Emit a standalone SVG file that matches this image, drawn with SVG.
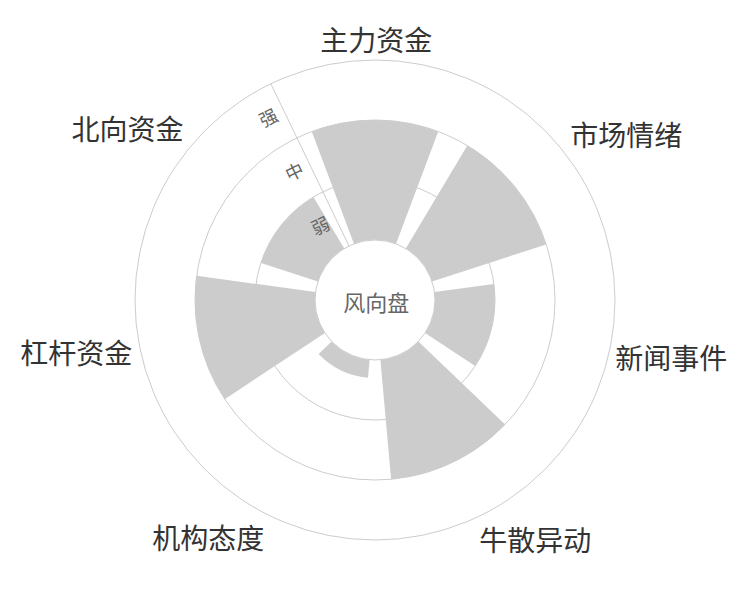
<svg xmlns="http://www.w3.org/2000/svg" width="750" height="600" viewBox="0 0 750 600">
<style>
  .grid { fill: none; stroke: #cccccc; stroke-width: 1; }
  .bar { fill: #cccccc; stroke: none; }
  .cat { font-family: "Noto Sans CJK SC", "Noto Sans", sans-serif; font-size: 28px; fill: #333333; text-anchor: middle; }
  .rlab { font-family: "Noto Sans CJK SC", "Noto Sans", sans-serif; font-size: 18px; fill: #666666; text-anchor: end; }
  .center { font-family: "Noto Sans CJK SC", "Noto Sans", sans-serif; font-size: 22px; fill: #666666; text-anchor: middle; }
</style>
<rect x="0" y="0" width="750" height="600" fill="#ffffff"/>
<g id="grid">
  <circle class="grid" cx="375" cy="300" r="60"/>
  <circle class="grid" cx="375" cy="300" r="120"/>
  <circle class="grid" cx="375" cy="300" r="180"/>
  <circle class="grid" cx="375" cy="300" r="240"/>
</g>
<g id="node-zhuli">
  <path class="bar" d="M438.25,131.47 A180,180 0 0 0 311.75,131.47 L353.92,243.82 A60,60 0 0 1 396.08,243.82 Z"/>
  <text class="cat" x="376.3" y="50.8">主力资金</text>
</g>
<g id="node-shichang">
  <path class="bar" d="M546.19,244.38 A180,180 0 0 0 467.32,145.48 L405.77,248.49 A60,60 0 0 1 432.06,281.46 Z"/>
  <text class="cat" x="626.3" y="145.5">市场情绪</text>
</g>
<g id="node-xinwen">
  <path class="bar" d="M475.15,366.11 A120,120 0 0 0 493.91,283.89 L434.46,291.95 A60,60 0 0 1 425.08,333.05 Z"/>
  <text class="cat" x="671.3" y="368.8">新闻事件</text>
</g>
<g id="node-niusan">
  <path class="bar" d="M391.14,479.27 A180,180 0 0 0 505.10,424.39 L418.37,341.46 A60,60 0 0 1 380.38,359.76 Z"/>
  <text class="cat" x="535.3" y="550.8">牛散异动</text>
</g>
<g id="node-jigou">
  <path class="bar" d="M318.62,353.90 A78,78 0 0 0 368.01,377.69 L369.62,359.76 A60,60 0 0 1 331.63,341.46 Z"/>
  <text class="cat" x="208.3" y="549.3">机构态度</text>
</g>
<g id="node-ganggan">
  <path class="bar" d="M196.63,275.84 A180,180 0 0 0 224.77,399.16 L324.92,333.05 A60,60 0 0 1 315.54,291.95 Z"/>
  <text class="cat" x="76.2" y="364.3">杠杆资金</text>
</g>
<g id="node-beixiang">
  <path class="bar" d="M313.45,196.99 A120,120 0 0 0 260.87,262.92 L317.94,281.46 A60,60 0 0 1 344.23,248.49 Z"/>
  <text class="cat" x="127.5" y="140.2">北向资金</text>
</g>
<g id="connectors">
  <line class="grid" x1="348.97" y1="245.94" x2="270.87" y2="83.77"/>
</g>
<g id="radius-labels">
  <text class="rlab" transform="translate(335.95,218.91) rotate(-25.714)" x="-8" y="6.3">弱</text>
  <text class="rlab" transform="translate(309.92,164.85) rotate(-25.714)" x="-8" y="6.3">中</text>
  <text class="rlab" transform="translate(283.89,110.80) rotate(-25.714)" x="-8" y="6.3">强</text>
</g>
<g id="node-center">
  <text class="center" x="376.3" y="310.5">风向盘</text>
</g>
</svg>
